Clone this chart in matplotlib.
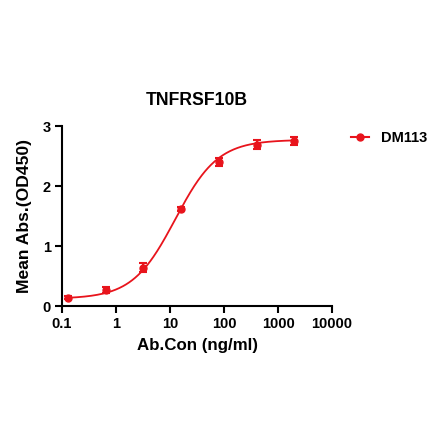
import numpy as np
import matplotlib
matplotlib.use('Agg')
import matplotlib.pyplot as plt

plt.rcParams['font.family'] = ['Liberation Sans', 'DejaVu Sans']
plt.rcParams['font.weight'] = 'bold'

# data
conc = [0.128, 0.64, 3.2, 16, 80, 400, 2000]
od450 = [0.14, 0.26, 0.64, 1.62, 2.40, 2.69, 2.75]
od_err = [0.03, 0.05, 0.07, 0.03, 0.07, 0.08, 0.06]

# 4PL fit parameters (bottom, top, EC50, hill)
fit_bottom, fit_top, fit_ec50, fit_hill = 0.12, 2.77, 12.5, 1.1

red = '#e8141c'

fig = plt.figure(figsize=(4.40, 4.41), dpi=100)
ax = fig.add_axes([62 / 440, 1 - 306 / 441, 270 / 440, 180 / 441])

xs = np.logspace(np.log10(conc[0]), np.log10(conc[-1]), 300)
ys = fit_bottom + (fit_top - fit_bottom) / (1 + (fit_ec50 / xs) ** fit_hill)
ax.plot(xs, ys, color=red, linewidth=1.3)
ax.errorbar(conc, od450, yerr=od_err, fmt='o', color=red, markersize=5,
            elinewidth=1.5, capsize=3, capthick=1.5)

# legend handle
ax.plot([], [], color=red, marker='o', markersize=5, linewidth=1.5, label='DM113')
leg = fig.legend(loc='center left', bbox_to_anchor=(351 / 440, 1 - 138 / 441),
                 frameon=False, borderpad=0, borderaxespad=0,
                 handlelength=1.25, handletextpad=0.8,
                 prop={'weight': 'bold', 'size': 10.5})

ax.set_xscale('log')
ax.set_xlim(0.1, 10000)
ax.set_ylim(0, 3)
ax.set_xticks([0.1, 1, 10, 100, 1000, 10000])
ax.set_xticklabels(['0.1', '1', '10', '100', '1000', '10000'])
ax.xaxis.set_minor_locator(matplotlib.ticker.NullLocator())
ax.set_yticks([0, 1, 2, 3])

for side in ['top', 'right']:
    ax.spines[side].set_visible(False)
for side in ['left', 'bottom']:
    ax.spines[side].set_linewidth(1.5)
ax.tick_params(width=1.5, length=5, labelsize=10.5, pad=3)

ax.set_title('TNFRSF10B', fontsize=12.7, fontweight='bold', pad=15)
ax.set_xlabel('Ab.Con (ng/ml)', fontsize=12.2, fontweight='bold', labelpad=5)
ax.set_ylabel('Mean Abs.(OD450)', fontsize=12.6, fontweight='bold', labelpad=8)

fig.savefig('out.png', dpi=100)
